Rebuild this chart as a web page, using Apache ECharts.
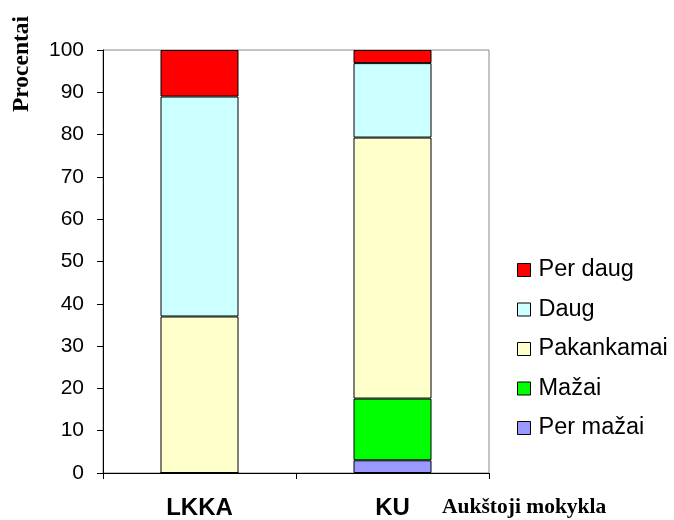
<!DOCTYPE html>
<html>
<head>
<meta charset="utf-8">
<script src="https://cdn.jsdelivr.net/npm/echarts@6/dist/echarts.min.js"></script>
<style>
  html, body { margin: 0; padding: 0; background: #fff; }
  #chart { width: 674px; height: 520px; }
</style>
</head>
<body>
<div id="chart"></div>
<script>
'use strict'

// data (percent)
const categories = ['LKKA', 'KU'];
const perMazai   = [0, 3.0];
const mazai      = [0, 14.6];
const pakankamai = [37.0, 61.7];
const daug       = [52.0, 17.6];
const perDaug    = [11.0, 3.1];

const seriesNames  = ['Per mažai', 'Mažai', 'Pakankamai', 'Daug', 'Per daug'];
const seriesValues = [perMazai, mazai, pakankamai, daug, perDaug];
const seriesColors = ['#9999FF', '#00FF00', '#FFFFCC', '#CCFFFF', '#FF0000'];
const yTicks = [0, 10, 20, 30, 40, 50, 60, 70, 80, 90, 100];

const sans = '"Liberation Sans", Arial, sans-serif';
const serif = '"Liberation Serif", "Times New Roman", serif';

const chart = echarts.init(document.getElementById('chart'));

const series = seriesNames.map(function (name, i) {
    return {
        name: name,
        type: 'bar',
        stack: 'total',
        barWidth: 78,
        data: seriesValues[i],
        itemStyle: {
            color: seriesColors[i],
            borderColor: '#000',
            borderWidth: 1
        },
        emphasis: { disabled: true }
    };
});

const option = {
    animation: false,
    grid: {
        left: 103,
        right: 185,
        top: 50,
        bottom: 44,
        show: true,
        borderColor: '#888',
        borderWidth: 1
    },
    legend: {
        orient: 'vertical',
        left: 517,
        top: 258,
        padding: 0,
        itemWidth: 13,
        itemHeight: 13,
        itemGap: 15.5,
        icon: 'rect',
        data: seriesNames.slice().reverse(),
        itemStyle: { borderColor: '#000', borderWidth: 1 },
        textStyle: {
            fontFamily: sans,
            fontSize: 23.5,
            color: '#000',
            lineHeight: 22,
            padding: [0, 0, 0, 3]
        }
    },
    xAxis: {
        type: 'category',
        data: categories,
        name: 'Aukštoji mokykla',
        nameLocation: 'end',
        nameGap: -47,
        nameTextStyle: {
            fontFamily: serif,
            fontWeight: 'bold',
            fontSize: 21.5,
            color: '#000',
            align: 'left',
            verticalAlign: 'top',
            padding: [23, 0, 0, 0]
        },
        axisLine: { lineStyle: { color: '#000', width: 1 } },
        axisTick: { show: true, length: 6, lineStyle: { color: '#000' } },
        axisLabel: {
            margin: 23,
            fontFamily: sans,
            fontWeight: 'bold',
            fontSize: 24,
            color: '#000'
        },
        splitLine: { show: false }
    },
    yAxis: {
        type: 'value',
        min: yTicks[0],
        max: yTicks[yTicks.length - 1],
        interval: 10,
        axisLine: { show: true, lineStyle: { color: '#000', width: 1 } },
        axisTick: { show: true, length: 6, lineStyle: { color: '#000' } },
        axisLabel: {
            margin: 19,
            fontFamily: sans,
            fontSize: 21,
            color: '#000'
        },
        splitLine: { show: false }
    },
    graphic: [{
        type: 'text',
        x: 22,
        y: 64,
        rotation: Math.PI / 2,
        style: {
            text: 'Procentai',
            fontFamily: serif,
            fontWeight: 'bold',
            fontSize: 23.5,
            fill: '#000',
            align: 'center',
            verticalAlign: 'middle'
        }
    }],
    series: series
};

option && chart.setOption(option);
</script>
</body>
</html>
